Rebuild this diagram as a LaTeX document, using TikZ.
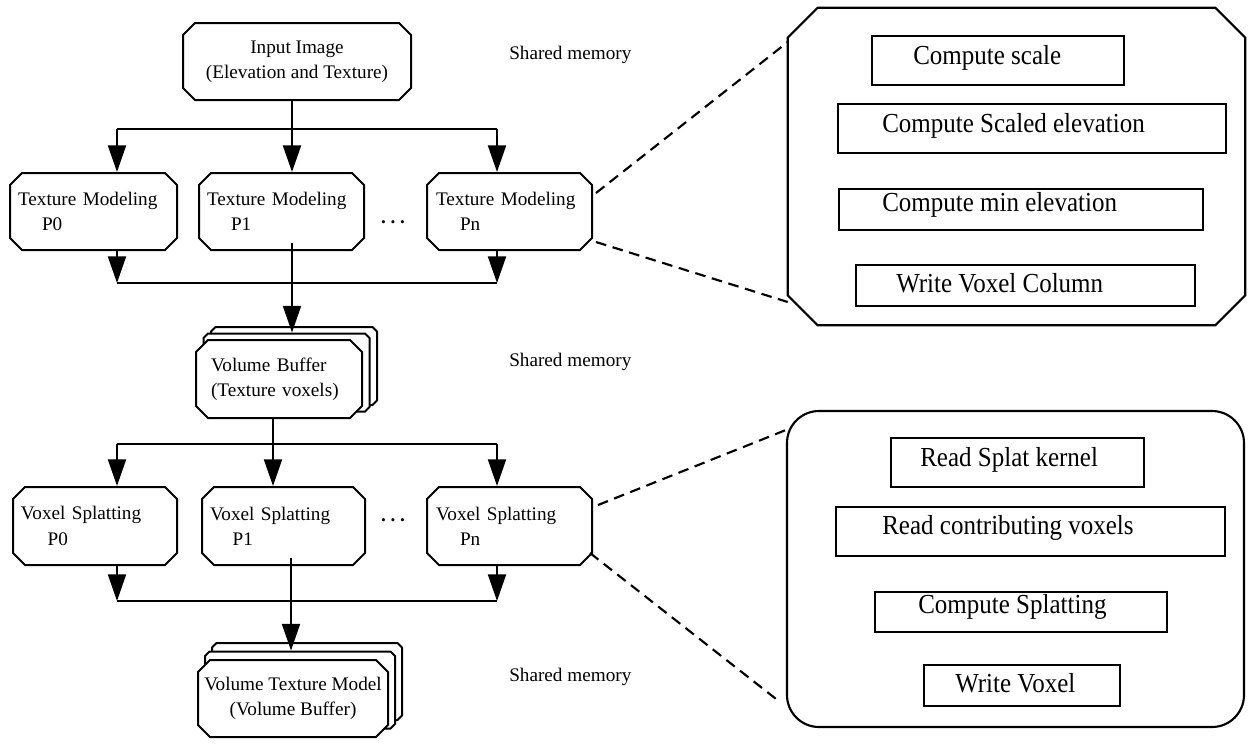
\documentclass[tikz,border=0pt]{standalone}
\usepackage{fontspec}
\setmainfont{Liberation Serif}
\usetikzlibrary{shapes.misc,arrows.meta,calc}
\newcommand\pxu{0.75pt}
\newcommand\tallt[1]{\scalebox{1}[1.1]{#1}}
\begin{document}
\begin{tikzpicture}[x=0.75pt,y=-0.75pt,
  smallfont/.style={font=\fontsize{14.4}{19}\selectfont},
  bigfont/.style={font=\fontsize{18.75}{22}\selectfont},
  proc/.style={chamfered rectangle, chamfered rectangle xsep=4.5pt, chamfered rectangle ysep=4.5pt,
     draw, line width=1.5pt, fill=white, inner ysep=0pt, smallfont},
  wire/.style={line width=1.5pt},
  arr/.style={line width=1.5pt, -{Triangle[width=13.5pt,length=20pt]}},
  zoomline/.style={line width=1.6pt, dash pattern=on 8pt off 5pt},
  ibox/.style={draw, line width=1.2pt, inner sep=0pt},
  itext/.style={anchor=west, inner sep=0pt, bigfont},
  memlabel/.style={anchor=west, inner sep=0pt, smallfont}
]
\useasboundingbox (0,0) rectangle (1248,744);

% left column nodes
\node[proc, minimum width={228*\pxu}, minimum height={77*\pxu}, align=center] (inp) at (297,61.5)
  {Input Image\\(Elevation and Texture)};

\node[proc, minimum width={167*\pxu}, minimum height={77*\pxu}, align=left, text width={151*\pxu}, inner xsep=1.5pt] (tm0) at (93.5,211.5)
  {Texture Modeling\\\hspace*{18pt}P0};
\node[proc, minimum width={165*\pxu}, minimum height={77*\pxu}, align=left, text width={149*\pxu}, inner xsep=1.5pt] (tm1) at (281.5,211.5)
  {Texture Modeling\\\hspace*{18pt}P1};
\node[proc, minimum width={165*\pxu}, minimum height={77*\pxu}, align=left, text width={147*\pxu}, inner xsep=2.25pt] (tmn) at (509.5,211.5)
  {Texture Modeling\\\hspace*{18pt}Pn};
\node[font=\bfseries\fontsize{14.4}{19}\selectfont, inner sep=0pt] (dots1) at (393,222) {.\ .\ .};

% volume buffer stack
\node[proc, minimum width={166*\pxu}, minimum height={78*\pxu}] (vb3) at (294,366) {};
\node[proc, minimum width={166*\pxu}, minimum height={78*\pxu}] (vb2) at (286.5,372.5) {};
\node[proc, minimum width={166*\pxu}, minimum height={78*\pxu}, align=left, text width={136*\pxu}, inner xsep=6.75pt] (vb) at (279,379)
  {Volume Buffer\\(Texture voxels)};

\node[proc, minimum width={164*\pxu}, minimum height={78*\pxu}, align=left, text width={148*\pxu}, inner xsep=1.5pt] (vs0) at (95,526)
  {Voxel Splatting\\\hspace*{20pt}P0};
\node[proc, minimum width={163*\pxu}, minimum height={78*\pxu}, align=left, text width={147*\pxu}, inner xsep=1.5pt] (vs1) at (283.5,526)
  {Voxel Splatting\\\hspace*{17pt}P1};
\node[proc, minimum width={165*\pxu}, minimum height={78*\pxu}, align=left, text width={147*\pxu}, inner xsep=2.25pt] (vsn) at (509.5,526)
  {Voxel Splatting\\\hspace*{18pt}Pn};
\node[font=\bfseries\fontsize{14.4}{19}\selectfont, inner sep=0pt] (dots2) at (393,520) {.\ .\ .};

% volume texture model stack
\node[proc, minimum width={190*\pxu}, minimum height={77*\pxu}] (vtm3) at (307,681.5) {};
\node[proc, minimum width={190*\pxu}, minimum height={77*\pxu}] (vtm2) at (300,690) {};
\node[proc, minimum width={190*\pxu}, minimum height={77*\pxu}, align=center, inner xsep=0pt] (vtm) at (293,698.5)
  {Volume Texture Model\\(Volume Buffer)};

% shared memory labels
\node[memlabel] (sm1) at (509,55) {Shared memory};
\node[memlabel] (sm2) at (509,362) {Shared memory};
\node[memlabel] (sm3) at (509,677) {Shared memory};

% buses
\coordinate (b1a) at (117,129); \coordinate (b1b) at (292,129); \coordinate (b1c) at (497,129);
\draw[wire] (b1a) -- (b1c);
\draw[wire] (inp.south -| b1b) -- (b1b);
\draw[arr] (b1a) -- (tm0.north -| b1a);
\draw[arr] (b1b) -- (tm1.north -| b1b);
\draw[arr] (b1c) -- (tmn.north -| b1c);

\coordinate (b2a) at (117,283); \coordinate (b2b) at (292,283); \coordinate (b2c) at (497,283);
\draw[wire] (b2a) -- (b2c);
\draw[arr] (tm0.south -| b2a) -- (b2a);
\draw[arr] (tmn.south -| b2c) -- (b2c);
\draw[arr] ($(tm1.south -| b2b)+(0,-8)$) -- (vb2.north -| b2b);

\coordinate (b3a) at (117,444); \coordinate (b3b) at (273,444); \coordinate (b3c) at (497,444);
\draw[wire] (b3a) -- (b3c);
\draw[wire] (vb.south -| b3b) -- (b3b);
\draw[arr] (b3a) -- (vs0.north -| b3a);
\draw[arr] (b3b) -- (vs1.north -| b3b);
\draw[arr] (b3c) -- (vsn.north -| b3c);

\coordinate (b4a) at (117,601); \coordinate (b4b) at (291,601); \coordinate (b4c) at (497,601);
\draw[wire] (b4a) -- (b4c);
\draw[arr] (vs0.south -| b4a) -- (b4a);
\draw[arr] (vsn.south -| b4c) -- (b4c);
\draw[arr] ($(vs1.south -| b4b)+(0,-8)$) -- (vtm2.north -| b4b);

% right detail boxes
\node[inner sep=0pt, minimum width={457*\pxu}, minimum height={317*\pxu}] (big1) at (1016.5,166.5) {};
\draw[line width=1.6pt]
  ($(big1.north west)+(30,0)$) -- ($(big1.north east)+(-30,0)$) -- ($(big1.north east)+(0,30)$)
  -- ($(big1.south east)+(0,-30)$) -- ($(big1.south east)+(-30,0)$) -- ($(big1.south west)+(30,0)$)
  -- ($(big1.south west)+(0,-30)$) -- ($(big1.north west)+(0,30)$) -- cycle;
\node[draw, line width=1.6pt, rounded corners=24pt, inner sep=0pt,
      minimum width={457*\pxu}, minimum height={316*\pxu}] (big2) at (1015.5,569) {};

\node[ibox, minimum width={252*\pxu}, minimum height={49*\pxu}] (cs) at (998,60.5) {};
\node[itext] (cs-t) at (913,58) {\tallt{Compute scale}};
\node[ibox, minimum width={388*\pxu}, minimum height={49*\pxu}] (cse) at (1032,128.5) {};
\node[itext] (cse-t) at (882,126) {\tallt{Compute Scaled elevation}};
\node[ibox, minimum width={364*\pxu}, minimum height={41*\pxu}] (cme) at (1021,209.5) {};
\node[itext] (cme-t) at (882,205) {\tallt{Compute min elevation}};
\node[ibox, minimum width={339*\pxu}, minimum height={41*\pxu}] (wvc) at (1025.5,285.5) {};
\node[itext] (wvc-t) at (896,283) {\tallt{Write Voxel Column}};

\node[ibox, minimum width={253*\pxu}, minimum height={49*\pxu}] (rsk) at (1017.5,462.5) {};
\node[itext] (rsk-t) at (920,460) {\tallt{Read Splat kernel}};
\node[ibox, minimum width={389*\pxu}, minimum height={49*\pxu}] (rcv) at (1030.5,531.5) {};
\node[itext] (rcv-t) at (882,528) {\tallt{Read contributing voxels}};
\node[ibox, minimum width={292*\pxu}, minimum height={40*\pxu}] (csp) at (1021,612) {};
\node[itext] (csp-t) at (918,607) {\tallt{Compute Splatting}};
\node[ibox, minimum width={196*\pxu}, minimum height={41*\pxu}] (wv) at (1022,685.5) {};
\node[itext] (wv-t) at (955,683) {\tallt{Write Voxel}};

% dashed zoom connectors
\draw[zoomline] ($(tmn.east)+(3,-18.5)$) -- ($(big1.west)+(0,-124.5)$);
\draw[zoomline] ($(tmn.east)+(3,30.5)$) -- ($(big1.west)+(0,135.5)$);
\draw[zoomline] ($(vsn.east)+(5,-21)$) -- ($(big2.west)+(0,-139)$);
\draw[zoomline] ($(vsn.east)+(-3,27)$) -- ($(big2.west)+(-6,133)$);
\end{tikzpicture}
\end{document}
